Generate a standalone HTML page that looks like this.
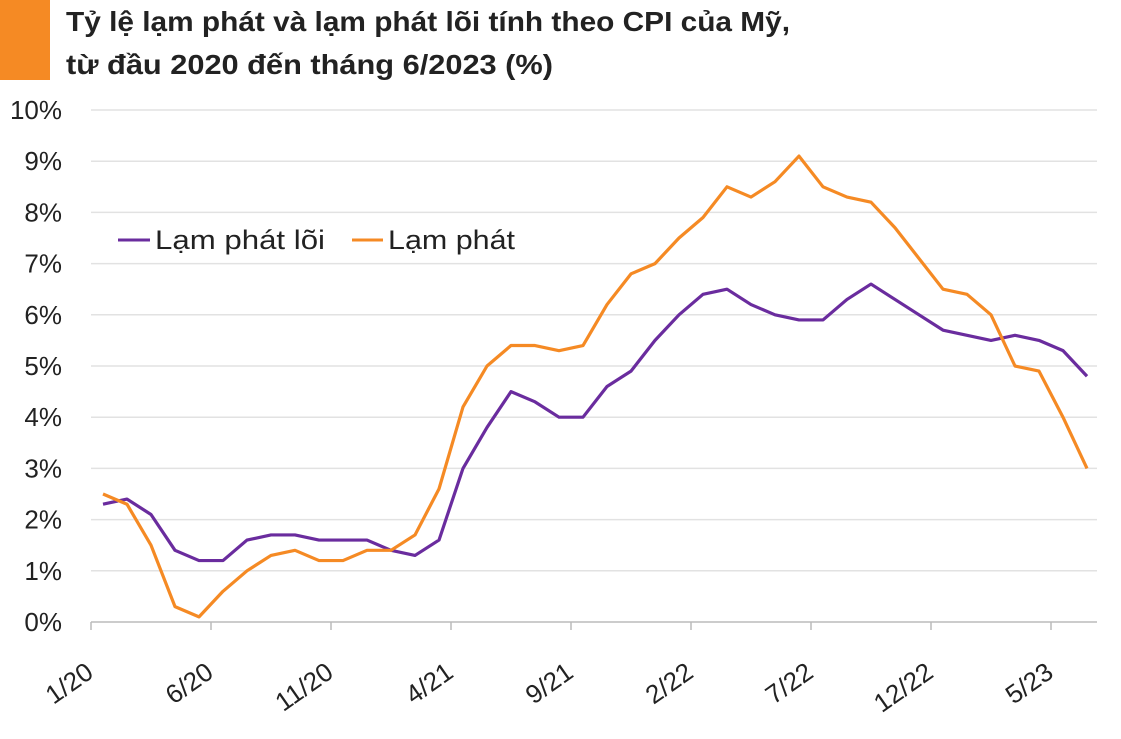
<!DOCTYPE html>
<html><head><meta charset="utf-8"><style>
body{margin:0;background:#fff;width:1121px;height:734px;overflow:hidden;font-family:"Liberation Sans",sans-serif}
</style></head><body>
<svg width="1121" height="734">
<rect x="0" y="0" width="50" height="80" fill="#f58a24"/>
<text x="66" y="31" font-size="28" font-weight="bold" fill="#222" textLength="724" lengthAdjust="spacingAndGlyphs">Tỷ lệ lạm phát và lạm phát lõi tính theo CPI của Mỹ,</text>
<text x="66" y="74" font-size="28" font-weight="bold" fill="#222" textLength="487" lengthAdjust="spacingAndGlyphs">từ đầu 2020 đến tháng 6/2023 (%)</text>
<g id="grid"></g><g id="lines"></g>
<g>
<line x1="118" y1="240" x2="150" y2="240" stroke="#6a2c9e" stroke-width="3"/>
<text x="155" y="249" font-size="27" fill="#222" textLength="170" lengthAdjust="spacingAndGlyphs">Lạm phát lõi</text>
<line x1="352" y1="240" x2="383" y2="240" stroke="#f58a24" stroke-width="3"/>
<text x="388" y="249" font-size="27" fill="#222" textLength="127" lengthAdjust="spacingAndGlyphs">Lạm phát</text>
</g>
</svg>
<script>
const yTicks=[0,1,2,3,4,5,6,7,8,9,10];
const xLabels=["1/20","6/20","11/20","4/21","9/21","2/22","7/22","12/22","5/23"];
const cpi=[2.5,2.3,1.5,0.3,0.1,0.6,1.0,1.3,1.4,1.2,1.2,1.4,1.4,1.7,2.6,4.2,5.0,5.4,5.4,5.3,5.4,6.2,6.8,7.0,7.5,7.9,8.5,8.3,8.6,9.1,8.5,8.3,8.2,7.7,7.1,6.5,6.4,6.0,5.0,4.9,4.0,3.0];
const core=[2.3,2.4,2.1,1.4,1.2,1.2,1.6,1.7,1.7,1.6,1.6,1.6,1.4,1.3,1.6,3.0,3.8,4.5,4.3,4.0,4.0,4.6,4.9,5.5,6.0,6.4,6.5,6.2,6.0,5.9,5.9,6.3,6.6,6.3,6.0,5.7,5.6,5.5,5.6,5.5,5.3,4.8];
const NS="http://www.w3.org/2000/svg";
const y=v=>622-v*51.2, bx=i=>91+i*24, px=i=>103+i*24;
const g=document.getElementById('grid'), L=document.getElementById('lines');
function mk(tag,attrs,parent){const e=document.createElementNS(NS,tag);for(const k in attrs)e.setAttribute(k,attrs[k]);parent.appendChild(e);return e;}
yTicks.forEach(t=>{
 const l=mk('line',{x1:91,x2:1097,y1:y(t),y2:y(t),stroke:t===0?'#bbb':'#e2e2e2','stroke-width':1.5},g);
 
 
 const tx=mk('text',{x:62,y:y(t)+9,'font-size':26,'text-anchor':'end',fill:'#222'},g);tx.textContent=t+'%';
 
 
});
xLabels.forEach((s,k)=>{
 const x=bx(k*5);
 const tk=mk('line',{x1:x,x2:x,y1:622,y2:630,stroke:'#bbb','stroke-width':1.5},g);
 
 
 const ax=x+4, ay=676;
 const tx=mk('text',{x:ax,y:ay,'font-size':26,'text-anchor':'end',fill:'#222',transform:`rotate(-35 ${ax} ${ay})`},g);tx.textContent=s;
 
 
});
function line(d,c,name){
 const p=mk('polyline',{points:d.map((v,i)=>px(i)+','+y(v)).join(' '),fill:'none',stroke:c,'stroke-width':3.2,'stroke-linejoin':'round'},L);
 
 
}
line(core,'#6a2c9e','core-inflation-line');
line(cpi,'#f58a24','cpi-inflation-line');
</script>
</body></html>
